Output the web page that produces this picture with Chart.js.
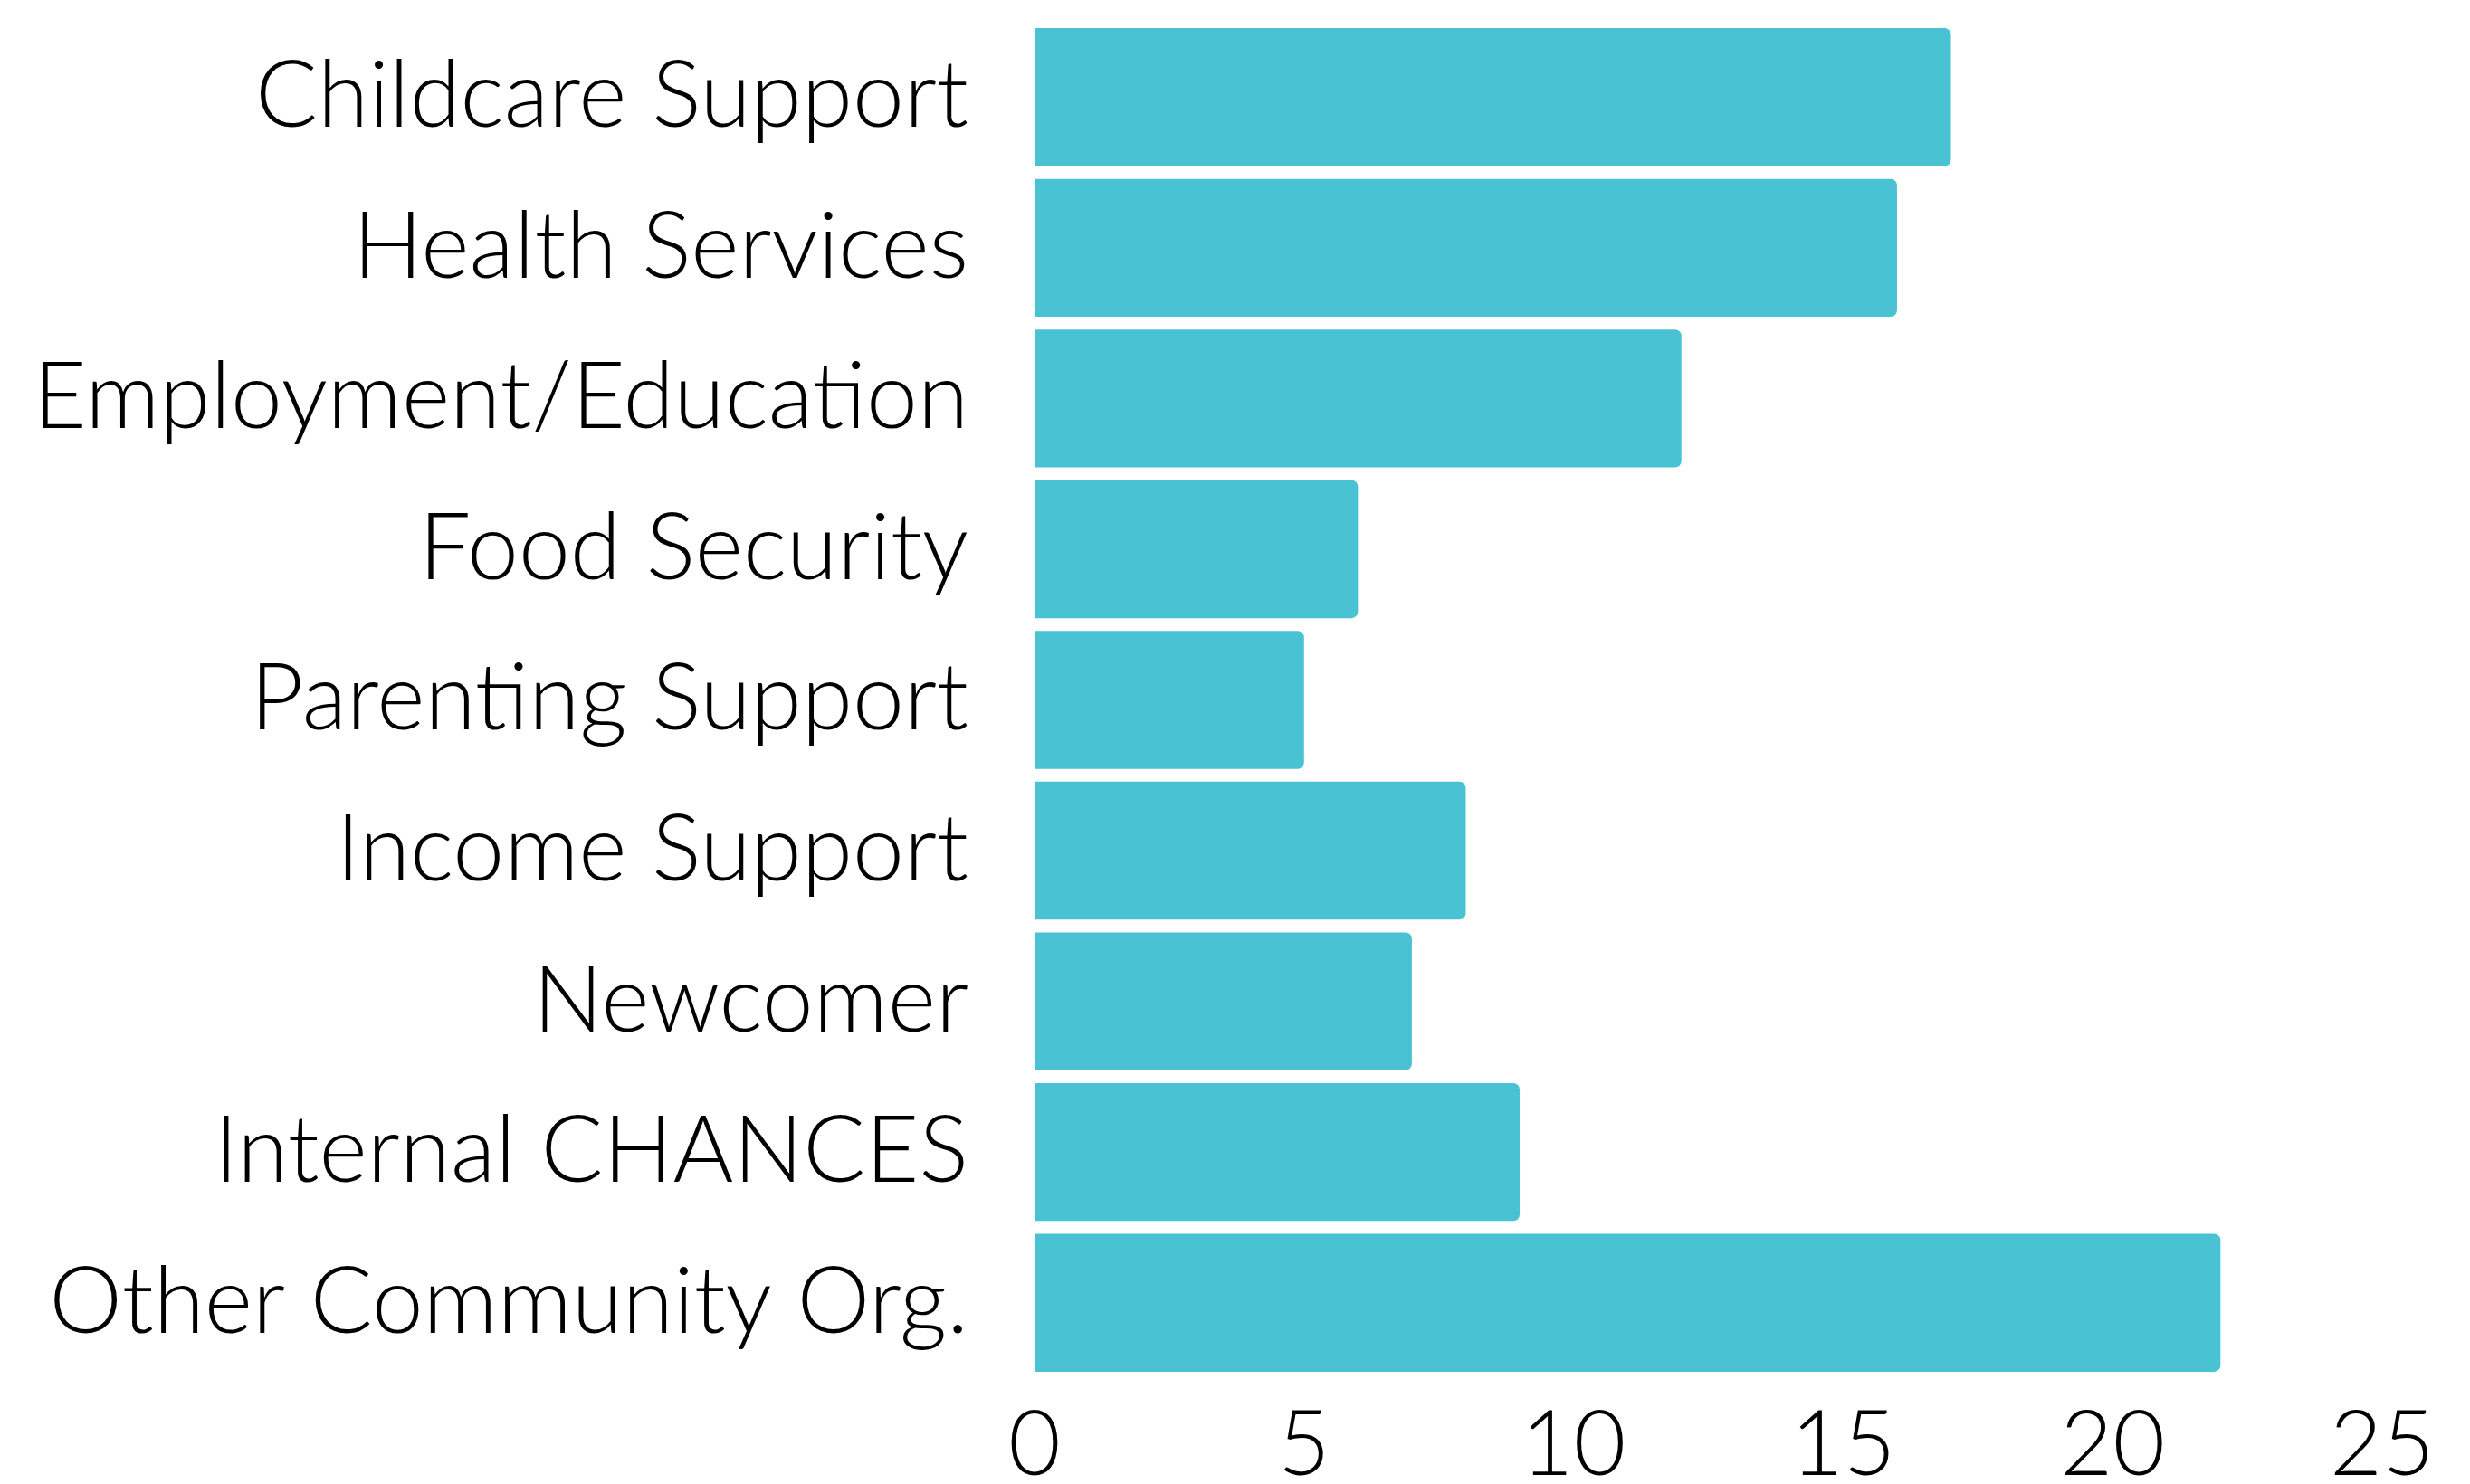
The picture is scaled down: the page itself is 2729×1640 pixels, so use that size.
<!DOCTYPE html>
<html>
<head>
<meta charset="utf-8">
<script src="https://cdn.jsdelivr.net/npm/chart.js@4.4.1/dist/chart.umd.min.js"></script>
<style>
html,body{margin:0;padding:0;background:#fff;}
#wrap{width:2729px;height:1640px;}
</style>
</head>
<body>
<div id="wrap"><canvas id="c" width="2729" height="1640"></canvas></div>
<script>
const categories = ["Childcare Support","Health Services","Employment/Education","Food Security","Parenting Support","Income Support","Newcomer","Internal CHANCES","Other Community Org."];
const values = [17,16,12,6,5,8,7,9,22];
const xTicks = [0,5,10,15,20,25];

new Chart(document.getElementById('c'), {
  type: 'bar',
  data: {
    labels: categories,
    datasets: [{
      data: values,
      backgroundColor: '#49C2D4',
      borderWidth: 0,
      borderRadius: {topLeft:0,bottomLeft:0,topRight:7,bottomRight:7},
      borderSkipped: 'start',
      categoryPercentage: 1.0,
      barPercentage: 0.915
    }]
  },
  options: {
    indexAxis: 'y',
    responsive: false,
    animation: false,
    devicePixelRatio: 1,
    layout: {padding: {top: 24, right: 97, bottom: 0, left: 0}},
    plugins: {legend: {display: false}, tooltip: {enabled: false}},
    scales: {
      x: {
        min: 0, max: 25,
        afterBuildTicks: (axis) => { axis.ticks = xTicks.map(v => ({value: v})); },
        afterFit: (axis) => { axis.height = 117; axis.paddingLeft = 0; axis.paddingRight = 0; },
        grid: {display: false, drawTicks: false},
        border: {display: false},
        ticks: {color: '#000', padding: 15, font: {family: 'Lato', size: 100, weight: '300'}}
      },
      y: {
        afterFit: (axis) => { axis.width = 1143; axis.paddingTop = 0; axis.paddingBottom = 0; },
        grid: {display: false, drawTicks: false},
        border: {display: false},
        ticks: {color: '#000', padding: 73, font: {family: 'Lato', size: 102, weight: '300'}}
      }
    }
  }
});
</script>
</body>
</html>
